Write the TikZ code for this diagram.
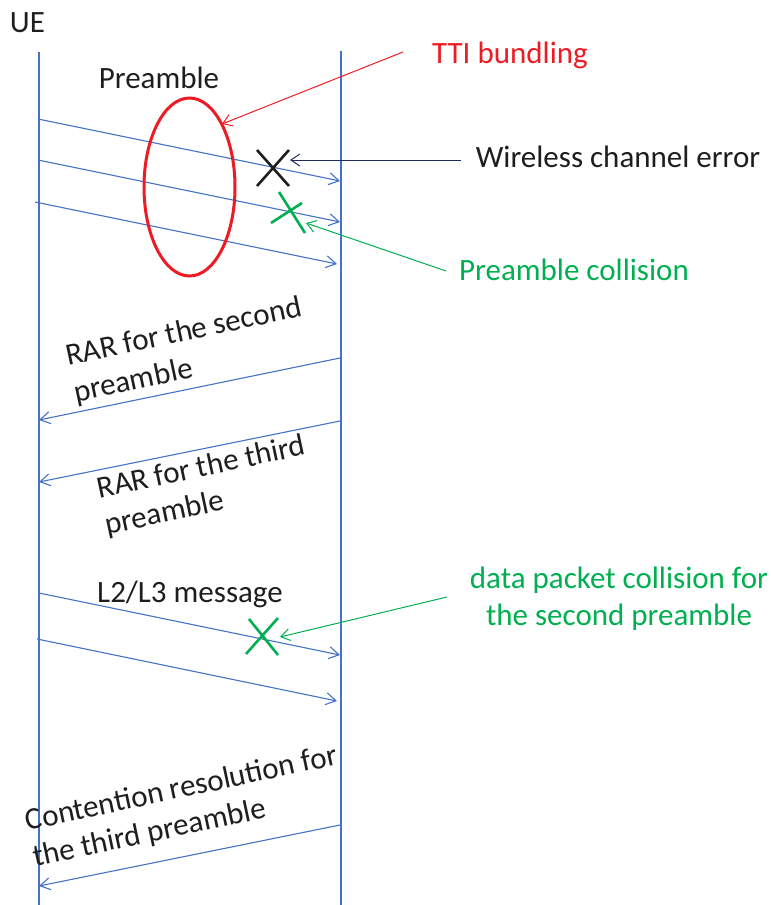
\documentclass[tikz,border=0pt]{standalone}
\usepackage{fontspec}
\setmainfont{Carlito}
\usetikzlibrary{arrows.meta}
\definecolor{msgblue}{RGB}{68,114,196}
\definecolor{tagred}{RGB}{237,28,36}
\definecolor{taggreen}{RGB}{0,176,80}
\definecolor{errnavy}{RGB}{31,42,96}
\definecolor{ink}{RGB}{30,30,30}
\begin{document}
\begin{tikzpicture}[x=1pt,y=-1pt,
  every node/.style={font=\fontsize{31}{37}\selectfont, text=ink, inner sep=0pt},
  life/.style={draw=msgblue, line width=1.3pt},
  msg/.style={draw=msgblue, line width=1.1pt, -{Straight Barb[length=10pt,width=12pt]}},
  callout/.style={line width=1pt, -{Straight Barb[length=9pt,width=12pt]}},
  slanted/.style={rotate=12, align=left},
  xmark/.style={line width=2.6pt}
]
\useasboundingbox (0,0) rectangle (771,905);

% lifelines
\coordinate (ueTop) at (39,52);   \coordinate (ueBot) at (39,905);
\coordinate (enbTop) at (341,51); \coordinate (enbBot) at (341,905);
\draw[life] (ueTop) -- (ueBot);
\draw[life] (enbTop) -- (enbBot);
\node[anchor=base] (ue) at (27.5,32) {UE};

% bundled preamble transmissions
\node[anchor=base] (pre) at (159,88) {Preamble};
\coordinate (p1s) at (38,119); \coordinate (p1e) at (340,181);
\coordinate (p2s) at (38,160); \coordinate (p2e) at (340,222);
\coordinate (p3s) at (35,202); \coordinate (p3e) at (337,264);
\draw[msg] (p1s) -- (p1e);
\draw[msg] (p2s) -- (p2e);
\draw[msg] (p3s) -- (p3e);
\draw[tagred, line width=3pt] (189.5,187) ellipse [x radius=45.5pt, y radius=89pt];
\coordinate (bundleTip) at (222,124);

% TTI bundling callout
\node[anchor=base, text=tagred] (tti) at (510,63) {TTI bundling};
\coordinate (ttiFrom) at (403,52);
\draw[callout, tagred] (ttiFrom) -- (bundleTip);

% wireless channel error mark
\coordinate (e1) at (257,150); \coordinate (e2) at (289,186);
\coordinate (e3) at (257,186); \coordinate (e4) at (289,150);
\draw[xmark, ink] (e1) -- (e2) (e3) -- (e4);
\node[anchor=base] (wce) at (618,167) {Wireless channel error};
\coordinate (wceFrom) at (461,160); \coordinate (wceTip) at (290,160);
\draw[callout, errnavy] (wceFrom) -- (wceTip);

% preamble collision mark
\coordinate (g1) at (271,223); \coordinate (g2) at (302,203);
\coordinate (g3) at (279,192); \coordinate (g4) at (305,233);
\draw[xmark, taggreen] (g1) -- (g2) (g3) -- (g4);
\node[anchor=base, text=taggreen] (pc) at (574,280) {Preamble collision};
\coordinate (pcFrom) at (446,271); \coordinate (pcTip) at (306,223);
\draw[callout, taggreen] (pcFrom) -- (pcTip);

% random access responses
\coordinate (r1s) at (340,358); \coordinate (r1e) at (39,420);
\coordinate (r2s) at (340,421); \coordinate (r2e) at (39,482);
\draw[msg] (r1s) -- (r1e);
\draw[msg] (r2s) -- (r2e);
\node[slanted] (rar1) at (188,351) {RAR for the second\\preamble};
\node[slanted] (rar2) at (205,486.5) {RAR for the third\\preamble};

% L2/L3 messages
\node[anchor=base] (l23) at (190,602) {L2/L3 message};
\coordinate (m1s) at (39,593); \coordinate (m1e) at (340,655);
\coordinate (m2s) at (37,639); \coordinate (m2e) at (337,701);
\draw[msg] (m1s) -- (m1e);
\draw[msg] (m2s) -- (m2e);

% data packet collision mark
\coordinate (d1) at (249,619); \coordinate (d2) at (278,655);
\coordinate (d3) at (246,654); \coordinate (d4) at (278,618);
\draw[xmark, taggreen] (d1) -- (d2) (d3) -- (d4);
\node[align=center, text=taggreen] (dpc) at (619,599) {data packet collision for\\the second preamble};
\coordinate (dpcFrom) at (447,597); \coordinate (dpcTip) at (280,637);
\draw[callout, taggreen] (dpcFrom) -- (dpcTip);

% contention resolution
\coordinate (c1s) at (340,825); \coordinate (c1e) at (39,886);
\draw[msg] (c1s) -- (c1e);
\node[slanted] (cr) at (185.5,807.5) {Contention resolution for\\the third preamble};
\end{tikzpicture}
\end{document}
